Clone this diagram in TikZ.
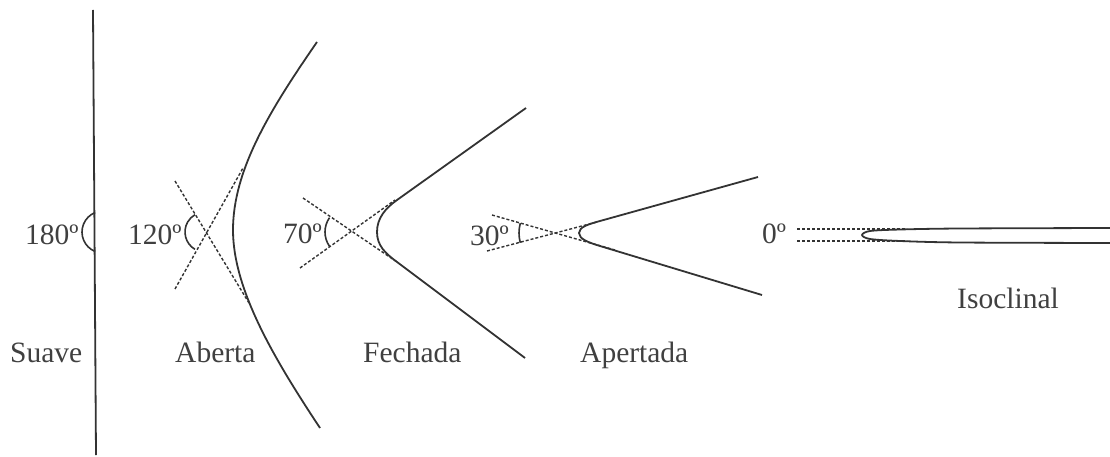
\documentclass[tikz,border=0pt]{standalone}
\usepackage{fontspec}
\setmainfont{Liberation Serif}
\begin{document}
\begin{tikzpicture}[x=1pt,y=-1pt,
  fold/.style={draw=black!80,line width=1.8pt,line join=round},
  axial/.style={draw=black!80,line width=1.4pt,dash pattern=on 3pt off 2pt},
  angarc/.style={draw=black!80,line width=1.6pt},
  lbl/.style={inner sep=0pt,anchor=base west,text=black!75,font=\fontsize{29.5}{31}\selectfont}]
\useasboundingbox (0,0) rectangle (1110,457);
% Suave
\draw[fold] (93,10) -- (96,455);
\coordinate (cS) at (103,232);
\draw[angarc] ([shift={(112:21)}]cS) arc (112:248:21);
\node[lbl] (t180) at (25,244) {180º};
\node[lbl] (suave) at (10,362) {Suave};
% Aberta
\draw[fold] (317,42) .. controls (270,110) and (233,170) .. (233,230)
                     .. controls (233,290) and (275,360) .. (320,428);
\coordinate (cA) at (205,232);
\draw[axial] (175,181) -- (249,303);
\draw[axial] (175,289) -- (243,168);
\draw[angarc] ([shift={(120:20)}]cA) arc (120:240:20);
\node[lbl] (t120) at (128,244) {120º};
\node[lbl] (aberta) at (175,362) {Aberta};
% Fechada
\draw[fold] (526,108) -- (397,200) .. controls (385.6,208.1) and (377,218) .. (377,232)
            .. controls (377,246) and (385.8,253.6) .. (397,262) -- (525,358);
\coordinate (cF) at (350,232);
\draw[axial] (303,198) -- (397,262);
\draw[axial] (300,268) -- (395,200);
\draw[angarc] ([shift={(145:25)}]cF) arc (145:215:25);
\node[lbl] (t70) at (283,243) {70º};
\node[lbl] (fechada) at (363,362) {Fechada};
% Apertada
\draw[fold] (758,177) -- (600,221) .. controls (588.4,224.2) and (579,227) .. (579,233)
            .. controls (579,239) and (588.5,242.5) .. (600,246) -- (762,295);
\coordinate (cP) at (557,233);
\draw[axial] (492,215) -- (615,250);
\draw[axial] (487,251) -- (597,222);
\draw[angarc] ([shift={(165:38)}]cP) arc (165:195:38);
\node[lbl] (t30) at (470,245) {30º};
\node[lbl] (apertada) at (580,362) {Apertada};
% Isoclinal
\draw[axial] (797,229) -- (907,229);
\draw[axial] (797,241) -- (907,241);
\draw[fold] plot[smooth,tension=0.5] coordinates {(1110,228) (960,228.5) (900,229.5) (870,231) (862,235) (870,239) (900,241) (960,242.5) (1110,243)};
\node[lbl] (t0) at (762,243) {0º};
\node[lbl] (isoclinal) at (957,308) {Isoclinal};
\end{tikzpicture}
\end{document}
